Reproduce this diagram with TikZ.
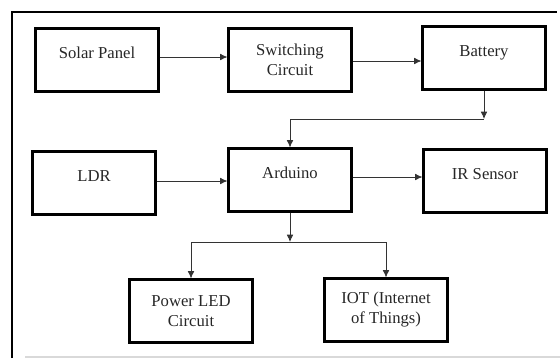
\documentclass[tikz,border=0pt]{standalone}
\usepackage{fontspec}
\setmainfont{Liberation Serif}
\newfontfamily\blockfont{Liberation Serif}
\usetikzlibrary{arrows.meta}
\begin{document}
\begin{tikzpicture}[
    x=0.75pt, y=-0.75pt,
    block/.style={draw=black, line width=1.8pt, minimum width=92pt, minimum height=47pt,
      inner sep=0pt, align=center, text=black!85, font=\blockfont\fontsize{12.5}{15}\selectfont},
    link/.style={black!80, line width=0.6pt, -{Latex[length=5.5pt,width=5pt]}},
    wire/.style={black!80, line width=0.6pt},
    frameline/.style={black, line width=1.2pt},
  ]
\useasboundingbox (0,0) rectangle (560,358);

% Page frame: left and top rules, light rule at the foot.
\draw[frameline] (12,358) -- (12,12) -- (557,12);
\draw[black!15, line width=1pt] (25,357) -- (560,357);

% Supply chain along the top row. Single-line labels sit high in the box.
\node[block] (solar) at (97,60) {Solar Panel\\[-4.5pt]\mbox{}};
\node[block] (switching) at (290,60) {Switching\\Circuit};
\node[block] (battery) at (484,58) {Battery\\[-4.5pt]\mbox{}};

% Controller row.
\node[block] (ldr) at (94,183) {LDR\\[-4.5pt]\mbox{}};
\node[block] (arduino) at (290,180) {Arduino\\[-4.5pt]\mbox{}};
\node[block] (irsensor) at (485,181) {IR Sensor\\[-4.5pt]\mbox{}};

% Outputs.
\node[block] (powerled) at (191,311) {Power LED\\Circuit};
\node[block] (iot) at (386,310) {IOT (Internet\\of Things)};

\draw[link] (solar.east |- 0,57) -- (switching.west |- 0,57);
\draw[link] (switching.east |- 0,61) -- (battery.west |- 0,61);

% Battery feeds down and across to the Arduino.
\coordinate (batdrop) at (484,119);
\draw[link] (battery) -- (batdrop);
\draw[link] (batdrop) -- (batdrop -| arduino) -- (arduino);

\draw[link] (ldr.east |- 0,181) -- (arduino.west |- 0,181);
\draw[link] (arduino.east |- 0,177) -- (irsensor.west |- 0,177);

% Arduino splits to both outputs.
\coordinate (split) at (290,242);
\draw[link] (arduino) -- (split);
\draw[wire] (split -| powerled) -- (split -| iot);
\draw[link] (split -| powerled) -- (powerled);
\draw[link] (split -| iot) -- (iot);

\end{tikzpicture}
\end{document}
